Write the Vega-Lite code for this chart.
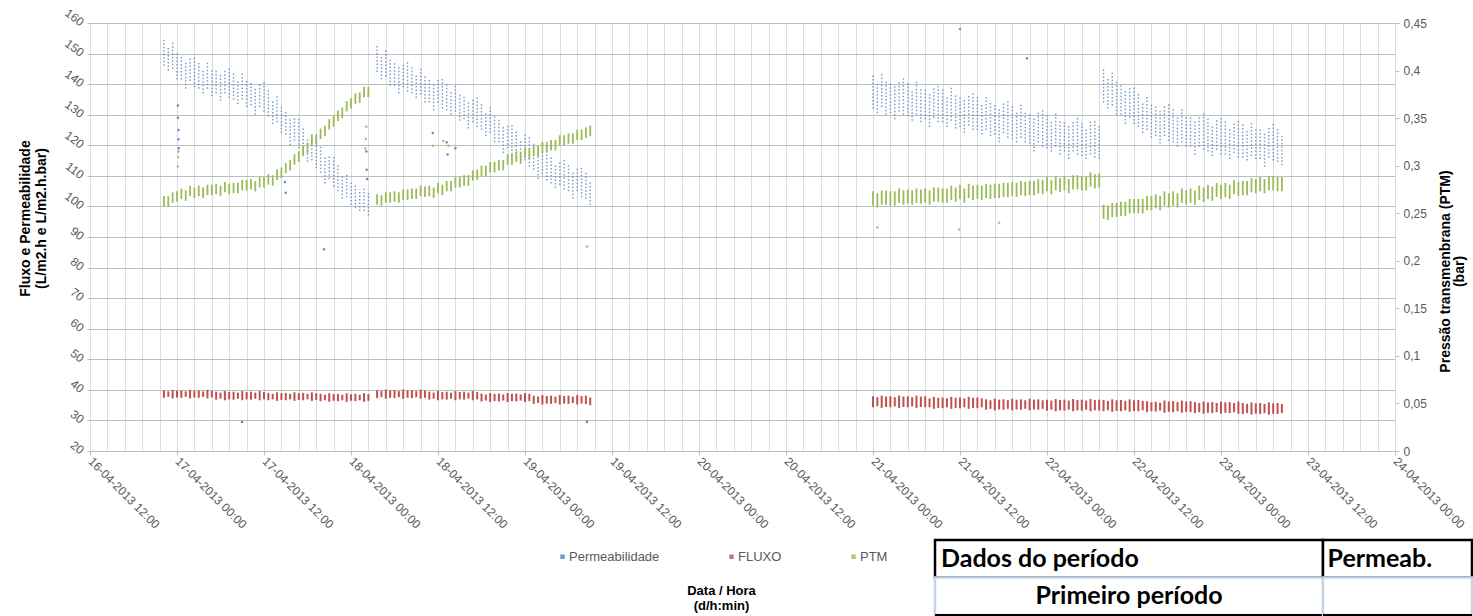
{
"$schema": "https://vega.github.io/schema/vega-lite/v6.json",
"autosize": {"type": "pad"},
"padding": {"left": 18, "top": 6, "right": 0, "bottom": 0},
"background": "#ffffff",
"bounds": "flush",
"spacing": 89,
"config": {
  "font": "Liberation Sans",
  "view": {"stroke": null},
  "axis": {"labelFont": "Liberation Sans", "titleFont": "Liberation Sans"},
  "legend": {"labelFont": "Liberation Sans"}
},
"datasets": {
"main": [
{"t":41380.925,"pl":146,"ph":155,"fl":37.4,"fh":39.8,"ml":0.257,"mh":0.268},
{"t":41380.95,"pl":144.5,"ph":152.5,"fl":37.7,"fh":39.5,"ml":0.257,"mh":0.268},
{"t":41380.975,"pl":145,"ph":154,"fl":37.2,"fh":40.0,"ml":0.261,"mh":0.272},
{"t":41381,"pl":141.5,"ph":150.5,"fl":37.5,"fh":39.7,"ml":0.262,"mh":0.273},
{"t":41381.025,"pl":141.5,"ph":149.5,"fl":37.4,"fh":39.8,"ml":0.265,"mh":0.276},
{"t":41381.05,"pl":138.5,"ph":147.5,"fl":37.7,"fh":39.5,"ml":0.263,"mh":0.274},
{"t":41381.075,"pl":141,"ph":149,"fl":37.2,"fh":40.0,"ml":0.268,"mh":0.279},
{"t":41381.1,"pl":139,"ph":149,"fl":37.5,"fh":39.7,"ml":0.266,"mh":0.277},
{"t":41381.125,"pl":138.5,"ph":147.5,"fl":37.4,"fh":39.8,"ml":0.268,"mh":0.279},
{"t":41381.15,"pl":137,"ph":145,"fl":37.7,"fh":39.5,"ml":0.266,"mh":0.277},
{"t":41381.175,"pl":138.5,"ph":147.5,"fl":37.2,"fh":40.0,"ml":0.269,"mh":0.280},
{"t":41381.2,"pl":136,"ph":145,"fl":37.5,"fh":39.7,"ml":0.269,"mh":0.280},
{"t":41381.225,"pl":137,"ph":145,"fl":36.8,"fh":39.4,"ml":0.270,"mh":0.281},
{"t":41381.25,"pl":134.5,"ph":143.5,"fl":37.1,"fh":39.1,"ml":0.268,"mh":0.279},
{"t":41381.275,"pl":137,"ph":145,"fl":36.6,"fh":39.6,"ml":0.272,"mh":0.283},
{"t":41381.3,"pl":135.5,"ph":145.5,"fl":36.9,"fh":39.3,"ml":0.270,"mh":0.281},
{"t":41381.325,"pl":135,"ph":144,"fl":36.8,"fh":39.4,"ml":0.271,"mh":0.282},
{"t":41381.35,"pl":133.5,"ph":141.5,"fl":37.1,"fh":39.1,"ml":0.271,"mh":0.282},
{"t":41381.375,"pl":135,"ph":144,"fl":36.6,"fh":39.6,"ml":0.274,"mh":0.285},
{"t":41381.4,"pl":132.5,"ph":141.5,"fl":36.9,"fh":39.3,"ml":0.274,"mh":0.285},
{"t":41381.425,"pl":133,"ph":141,"fl":36.8,"fh":39.4,"ml":0.275,"mh":0.286},
{"t":41381.45,"pl":130,"ph":139,"fl":37.1,"fh":39.1,"ml":0.273,"mh":0.284},
{"t":41381.475,"pl":132.5,"ph":140.5,"fl":36.6,"fh":39.6,"ml":0.277,"mh":0.288},
{"t":41381.5,"pl":131,"ph":141,"fl":36.9,"fh":39.3,"ml":0.277,"mh":0.288},
{"t":41381.525,"pl":129.5,"ph":138.5,"fl":36.6,"fh":39.0,"ml":0.280,"mh":0.291},
{"t":41381.55,"pl":127,"ph":135,"fl":36.9,"fh":38.7,"ml":0.279,"mh":0.290},
{"t":41381.575,"pl":127.5,"ph":136.5,"fl":36.4,"fh":39.2,"ml":0.285,"mh":0.296},
{"t":41381.6,"pl":124,"ph":133,"fl":36.7,"fh":38.9,"ml":0.287,"mh":0.298},
{"t":41381.625,"pl":123.5,"ph":131.5,"fl":36.6,"fh":39.0,"ml":0.292,"mh":0.303},
{"t":41381.65,"pl":120,"ph":129,"fl":36.9,"fh":38.7,"ml":0.295,"mh":0.306},
{"t":41381.675,"pl":121.5,"ph":129.5,"fl":36.4,"fh":39.2,"ml":0.301,"mh":0.312},
{"t":41381.7,"pl":119,"ph":129,"fl":36.7,"fh":38.9,"ml":0.304,"mh":0.315},
{"t":41381.725,"pl":117,"ph":126,"fl":36.6,"fh":39.0,"ml":0.310,"mh":0.321},
{"t":41381.75,"pl":114.5,"ph":122.5,"fl":36.9,"fh":38.7,"ml":0.313,"mh":0.324},
{"t":41381.775,"pl":115,"ph":124,"fl":36.4,"fh":39.2,"ml":0.321,"mh":0.332},
{"t":41381.8,"pl":112.5,"ph":122.5,"fl":36.7,"fh":38.9,"ml":0.322,"mh":0.333},
{"t":41381.825,"pl":111,"ph":120,"fl":36.3,"fh":38.7,"ml":0.328,"mh":0.339},
{"t":41381.85,"pl":107.5,"ph":116.5,"fl":36.6,"fh":38.4,"ml":0.331,"mh":0.342},
{"t":41381.875,"pl":109,"ph":117,"fl":36.1,"fh":38.9,"ml":0.338,"mh":0.349},
{"t":41381.9,"pl":106.5,"ph":116.5,"fl":36.4,"fh":38.6,"ml":0.341,"mh":0.352},
{"t":41381.925,"pl":105,"ph":114,"fl":36.3,"fh":38.7,"ml":0.347,"mh":0.358},
{"t":41381.95,"pl":102.5,"ph":110.5,"fl":36.6,"fh":38.4,"ml":0.350,"mh":0.361},
{"t":41381.975,"pl":103,"ph":111,"fl":36.1,"fh":38.9,"ml":0.357,"mh":0.368},
{"t":41382,"pl":100.5,"ph":108.5,"fl":36.4,"fh":38.6,"ml":0.360,"mh":0.371},
{"t":41382.025,"pl":99.5,"ph":107.5,"fl":36.3,"fh":38.7,"ml":0.365,"mh":0.376},
{"t":41382.05,"pl":98.5,"ph":105.5,"fl":36.6,"fh":38.4,"ml":0.366,"mh":0.377},
{"t":41382.075,"pl":98.5,"ph":106.5,"fl":36.1,"fh":38.9,"ml":0.372,"mh":0.383},
{"t":41382.1,"pl":97,"ph":105,"fl":36.4,"fh":38.6,"ml":0.372,"mh":0.383},
{"t":41382.15,"pl":144,"ph":153,"fl":37.3,"fh":39.9,"ml":0.259,"mh":0.270},
{"t":41382.175,"pl":141.5,"ph":149.5,"fl":37.6,"fh":39.6,"ml":0.258,"mh":0.269},
{"t":41382.2,"pl":142.5,"ph":151.5,"fl":37.1,"fh":40.1,"ml":0.261,"mh":0.272},
{"t":41382.225,"pl":139.5,"ph":148.5,"fl":37.4,"fh":39.8,"ml":0.261,"mh":0.272},
{"t":41382.25,"pl":139.5,"ph":147.5,"fl":37.3,"fh":39.9,"ml":0.262,"mh":0.273},
{"t":41382.275,"pl":137,"ph":146,"fl":37.6,"fh":39.6,"ml":0.261,"mh":0.272},
{"t":41382.3,"pl":139,"ph":147,"fl":37.1,"fh":40.1,"ml":0.264,"mh":0.275},
{"t":41382.325,"pl":137.5,"ph":147.5,"fl":37.4,"fh":39.8,"ml":0.264,"mh":0.275},
{"t":41382.35,"pl":137,"ph":146,"fl":37.3,"fh":39.9,"ml":0.265,"mh":0.276},
{"t":41382.375,"pl":135.5,"ph":143.5,"fl":37.6,"fh":39.6,"ml":0.265,"mh":0.276},
{"t":41382.4,"pl":136.5,"ph":145.5,"fl":37.1,"fh":40.1,"ml":0.268,"mh":0.279},
{"t":41382.425,"pl":134,"ph":143,"fl":37.4,"fh":39.8,"ml":0.267,"mh":0.278},
{"t":41382.45,"pl":134,"ph":142,"fl":36.8,"fh":39.4,"ml":0.268,"mh":0.279},
{"t":41382.475,"pl":131.5,"ph":140.5,"fl":37.1,"fh":39.1,"ml":0.266,"mh":0.277},
{"t":41382.5,"pl":134,"ph":142,"fl":36.6,"fh":39.6,"ml":0.271,"mh":0.282},
{"t":41382.525,"pl":132,"ph":142,"fl":36.9,"fh":39.3,"ml":0.269,"mh":0.280},
{"t":41382.55,"pl":131.5,"ph":140.5,"fl":36.8,"fh":39.4,"ml":0.273,"mh":0.284},
{"t":41382.575,"pl":130,"ph":138,"fl":37.1,"fh":39.1,"ml":0.273,"mh":0.284},
{"t":41382.6,"pl":131,"ph":140,"fl":36.6,"fh":39.6,"ml":0.277,"mh":0.288},
{"t":41382.625,"pl":128,"ph":137,"fl":36.9,"fh":39.3,"ml":0.277,"mh":0.288},
{"t":41382.65,"pl":128.5,"ph":136.5,"fl":36.8,"fh":39.4,"ml":0.279,"mh":0.290},
{"t":41382.675,"pl":125.5,"ph":134.5,"fl":37.1,"fh":39.1,"ml":0.279,"mh":0.290},
{"t":41382.7,"pl":127.5,"ph":135.5,"fl":36.6,"fh":39.6,"ml":0.284,"mh":0.295},
{"t":41382.725,"pl":126,"ph":136,"fl":36.9,"fh":39.3,"ml":0.285,"mh":0.296},
{"t":41382.75,"pl":125,"ph":134,"fl":36.2,"fh":38.8,"ml":0.289,"mh":0.300},
{"t":41382.775,"pl":123,"ph":131,"fl":36.5,"fh":38.5,"ml":0.289,"mh":0.300},
{"t":41382.8,"pl":124,"ph":133,"fl":36.0,"fh":39.0,"ml":0.293,"mh":0.304},
{"t":41382.825,"pl":121,"ph":130,"fl":36.3,"fh":38.7,"ml":0.293,"mh":0.304},
{"t":41382.85,"pl":121,"ph":129,"fl":36.2,"fh":38.8,"ml":0.295,"mh":0.306},
{"t":41382.875,"pl":117.5,"ph":126.5,"fl":36.5,"fh":38.5,"ml":0.295,"mh":0.306},
{"t":41382.9,"pl":119,"ph":127,"fl":36.0,"fh":39.0,"ml":0.301,"mh":0.312},
{"t":41382.925,"pl":117,"ph":127,"fl":36.3,"fh":38.7,"ml":0.301,"mh":0.312},
{"t":41382.95,"pl":116,"ph":125,"fl":36.2,"fh":38.8,"ml":0.304,"mh":0.315},
{"t":41382.975,"pl":114,"ph":122,"fl":36.5,"fh":38.5,"ml":0.303,"mh":0.314},
{"t":41383,"pl":115,"ph":124,"fl":36.0,"fh":39.0,"ml":0.308,"mh":0.319},
{"t":41383.025,"pl":113,"ph":123,"fl":36.3,"fh":38.7,"ml":0.307,"mh":0.318},
{"t":41383.05,"pl":112,"ph":121,"fl":35.4,"fh":38.1,"ml":0.310,"mh":0.321},
{"t":41383.075,"pl":109,"ph":118,"fl":35.7,"fh":37.8,"ml":0.310,"mh":0.321},
{"t":41383.1,"pl":110.5,"ph":118.5,"fl":35.2,"fh":38.3,"ml":0.314,"mh":0.325},
{"t":41383.125,"pl":108.5,"ph":118.5,"fl":35.5,"fh":38.0,"ml":0.314,"mh":0.325},
{"t":41383.15,"pl":107.5,"ph":116.5,"fl":35.4,"fh":38.1,"ml":0.316,"mh":0.327},
{"t":41383.175,"pl":106,"ph":114,"fl":35.7,"fh":37.8,"ml":0.316,"mh":0.327},
{"t":41383.2,"pl":107,"ph":115,"fl":35.2,"fh":38.3,"ml":0.321,"mh":0.332},
{"t":41383.225,"pl":105.5,"ph":115.5,"fl":35.5,"fh":38.0,"ml":0.321,"mh":0.332},
{"t":41383.25,"pl":105,"ph":114,"fl":35.4,"fh":38.1,"ml":0.323,"mh":0.334},
{"t":41383.275,"pl":102.5,"ph":111.5,"fl":35.7,"fh":37.8,"ml":0.323,"mh":0.334},
{"t":41383.3,"pl":105,"ph":113,"fl":35.2,"fh":38.3,"ml":0.327,"mh":0.338},
{"t":41383.325,"pl":103,"ph":113,"fl":35.5,"fh":38.0,"ml":0.327,"mh":0.338},
{"t":41383.35,"pl":102.5,"ph":111.5,"fl":35.4,"fh":38.1,"ml":0.329,"mh":0.340},
{"t":41383.375,"pl":100.5,"ph":108.5,"fl":35.0,"fh":37.5,"ml":0.331,"mh":0.342},
{"t":41385,"pl":132,"ph":143,"fl":34.3,"fh":37.9,"ml":0.258,"mh":0.273},
{"t":41385.025,"pl":130.5,"ph":140.5,"fl":34.6,"fh":37.6,"ml":0.256,"mh":0.271},
{"t":41385.05,"pl":132.5,"ph":143.5,"fl":34.1,"fh":38.1,"ml":0.259,"mh":0.274},
{"t":41385.075,"pl":130,"ph":141,"fl":34.4,"fh":37.8,"ml":0.259,"mh":0.274},
{"t":41385.1,"pl":130.5,"ph":140.5,"fl":34.3,"fh":37.9,"ml":0.258,"mh":0.273},
{"t":41385.125,"pl":128.5,"ph":139.5,"fl":34.6,"fh":37.6,"ml":0.258,"mh":0.273},
{"t":41385.15,"pl":131,"ph":141,"fl":34.1,"fh":38.1,"ml":0.261,"mh":0.276},
{"t":41385.175,"pl":130,"ph":142,"fl":34.4,"fh":37.8,"ml":0.259,"mh":0.274},
{"t":41385.2,"pl":129.5,"ph":140.5,"fl":34.3,"fh":37.9,"ml":0.260,"mh":0.275},
{"t":41385.225,"pl":128,"ph":138,"fl":34.6,"fh":37.6,"ml":0.259,"mh":0.274},
{"t":41385.25,"pl":130,"ph":141,"fl":34.1,"fh":38.1,"ml":0.261,"mh":0.276},
{"t":41385.275,"pl":127.5,"ph":138.5,"fl":34.4,"fh":37.8,"ml":0.260,"mh":0.275},
{"t":41385.3,"pl":128.5,"ph":138.5,"fl":34.3,"fh":37.9,"ml":0.261,"mh":0.276},
{"t":41385.325,"pl":126,"ph":137,"fl":34.3,"fh":37.2,"ml":0.259,"mh":0.274},
{"t":41385.35,"pl":129,"ph":139,"fl":33.8,"fh":37.7,"ml":0.262,"mh":0.277},
{"t":41385.375,"pl":127.5,"ph":139.5,"fl":34.1,"fh":37.4,"ml":0.262,"mh":0.277},
{"t":41385.4,"pl":127.5,"ph":138.5,"fl":34.0,"fh":37.5,"ml":0.261,"mh":0.276},
{"t":41385.425,"pl":126,"ph":136,"fl":34.3,"fh":37.2,"ml":0.261,"mh":0.276},
{"t":41385.45,"pl":128,"ph":139,"fl":33.8,"fh":37.7,"ml":0.264,"mh":0.279},
{"t":41385.475,"pl":125.5,"ph":136.5,"fl":34.1,"fh":37.4,"ml":0.262,"mh":0.277},
{"t":41385.5,"pl":126,"ph":136,"fl":34.0,"fh":37.5,"ml":0.265,"mh":0.280},
{"t":41385.525,"pl":124,"ph":135,"fl":34.3,"fh":37.2,"ml":0.261,"mh":0.276},
{"t":41385.55,"pl":126.5,"ph":136.5,"fl":33.8,"fh":37.7,"ml":0.266,"mh":0.281},
{"t":41385.575,"pl":125,"ph":137,"fl":34.1,"fh":37.4,"ml":0.264,"mh":0.279},
{"t":41385.6,"pl":125,"ph":136,"fl":34.0,"fh":37.5,"ml":0.265,"mh":0.280},
{"t":41385.625,"pl":123.5,"ph":133.5,"fl":34.3,"fh":37.2,"ml":0.264,"mh":0.279},
{"t":41385.65,"pl":125,"ph":136,"fl":33.5,"fh":36.9,"ml":0.266,"mh":0.281},
{"t":41385.675,"pl":123,"ph":134,"fl":33.8,"fh":36.6,"ml":0.265,"mh":0.280},
{"t":41385.7,"pl":123.5,"ph":133.5,"fl":33.3,"fh":37.1,"ml":0.266,"mh":0.281},
{"t":41385.725,"pl":121,"ph":132,"fl":33.6,"fh":36.8,"ml":0.266,"mh":0.281},
{"t":41385.75,"pl":124,"ph":134,"fl":33.5,"fh":36.9,"ml":0.267,"mh":0.282},
{"t":41385.775,"pl":122.5,"ph":134.5,"fl":33.8,"fh":36.6,"ml":0.267,"mh":0.282},
{"t":41385.8,"pl":122,"ph":133,"fl":33.3,"fh":37.1,"ml":0.268,"mh":0.283},
{"t":41385.825,"pl":121,"ph":131,"fl":33.6,"fh":36.8,"ml":0.267,"mh":0.282},
{"t":41385.85,"pl":122.5,"ph":133.5,"fl":33.5,"fh":36.9,"ml":0.269,"mh":0.284},
{"t":41385.875,"pl":121,"ph":131,"fl":33.8,"fh":36.6,"ml":0.268,"mh":0.283},
{"t":41385.9,"pl":120.5,"ph":130.5,"fl":33.3,"fh":37.1,"ml":0.269,"mh":0.284},
{"t":41385.925,"pl":118,"ph":129,"fl":33.6,"fh":36.8,"ml":0.269,"mh":0.284},
{"t":41385.95,"pl":121,"ph":131,"fl":33.5,"fh":36.9,"ml":0.271,"mh":0.286},
{"t":41385.975,"pl":119.5,"ph":131.5,"fl":33.8,"fh":36.6,"ml":0.270,"mh":0.285},
{"t":41386,"pl":119,"ph":130,"fl":33.2,"fh":36.8,"ml":0.273,"mh":0.288},
{"t":41386.025,"pl":118,"ph":128,"fl":33.5,"fh":36.5,"ml":0.270,"mh":0.285},
{"t":41386.05,"pl":119.5,"ph":130.5,"fl":33.0,"fh":37.0,"ml":0.274,"mh":0.289},
{"t":41386.075,"pl":117,"ph":128,"fl":33.3,"fh":36.7,"ml":0.272,"mh":0.287},
{"t":41386.1,"pl":118,"ph":128,"fl":33.2,"fh":36.8,"ml":0.274,"mh":0.289},
{"t":41386.125,"pl":115.5,"ph":126.5,"fl":33.5,"fh":36.5,"ml":0.271,"mh":0.286},
{"t":41386.15,"pl":118,"ph":128,"fl":33.0,"fh":37.0,"ml":0.275,"mh":0.290},
{"t":41386.175,"pl":117,"ph":129,"fl":33.3,"fh":36.7,"ml":0.275,"mh":0.290},
{"t":41386.2,"pl":116.5,"ph":127.5,"fl":33.2,"fh":36.8,"ml":0.274,"mh":0.289},
{"t":41386.225,"pl":115.5,"ph":125.5,"fl":33.5,"fh":36.5,"ml":0.274,"mh":0.289},
{"t":41386.25,"pl":117,"ph":128,"fl":33.0,"fh":37.0,"ml":0.278,"mh":0.293},
{"t":41386.275,"pl":116,"ph":128,"fl":33.3,"fh":36.7,"ml":0.276,"mh":0.291},
{"t":41386.3,"pl":115.5,"ph":126.5,"fl":33.2,"fh":36.8,"ml":0.277,"mh":0.292},
{"t":41386.325,"pl":134,"ph":145,"fl":33.0,"fh":36.7,"ml":0.244,"mh":0.259},
{"t":41386.35,"pl":132,"ph":142,"fl":33.3,"fh":36.4,"ml":0.243,"mh":0.258},
{"t":41386.375,"pl":133,"ph":144,"fl":32.8,"fh":36.9,"ml":0.246,"mh":0.261},
{"t":41386.4,"pl":130,"ph":141,"fl":33.1,"fh":36.6,"ml":0.246,"mh":0.261},
{"t":41386.425,"pl":130,"ph":140,"fl":33.0,"fh":36.7,"ml":0.247,"mh":0.262},
{"t":41386.45,"pl":127,"ph":138,"fl":33.3,"fh":36.4,"ml":0.247,"mh":0.262},
{"t":41386.475,"pl":129,"ph":139,"fl":32.8,"fh":36.9,"ml":0.250,"mh":0.265},
{"t":41386.5,"pl":127,"ph":139,"fl":33.1,"fh":36.6,"ml":0.250,"mh":0.265},
{"t":41386.525,"pl":126,"ph":137,"fl":33.0,"fh":36.7,"ml":0.250,"mh":0.265},
{"t":41386.55,"pl":124,"ph":134,"fl":33.3,"fh":36.4,"ml":0.250,"mh":0.265},
{"t":41386.575,"pl":125,"ph":136,"fl":32.7,"fh":36.3,"ml":0.253,"mh":0.268},
{"t":41386.6,"pl":122.5,"ph":133.5,"fl":33.0,"fh":36.0,"ml":0.253,"mh":0.268},
{"t":41386.625,"pl":123,"ph":133,"fl":32.9,"fh":36.1,"ml":0.255,"mh":0.270},
{"t":41386.65,"pl":120.5,"ph":131.5,"fl":33.2,"fh":35.8,"ml":0.253,"mh":0.268},
{"t":41386.675,"pl":123,"ph":133,"fl":32.5,"fh":36.5,"ml":0.258,"mh":0.273},
{"t":41386.7,"pl":121.5,"ph":133.5,"fl":32.8,"fh":36.2,"ml":0.256,"mh":0.271},
{"t":41386.725,"pl":121,"ph":132,"fl":32.7,"fh":36.3,"ml":0.258,"mh":0.273},
{"t":41386.75,"pl":119.5,"ph":129.5,"fl":33.0,"fh":36.0,"ml":0.256,"mh":0.271},
{"t":41386.775,"pl":121,"ph":132,"fl":32.5,"fh":36.5,"ml":0.261,"mh":0.276},
{"t":41386.8,"pl":119.5,"ph":129.5,"fl":32.8,"fh":36.2,"ml":0.259,"mh":0.274},
{"t":41386.825,"pl":119.5,"ph":129.5,"fl":32.7,"fh":36.3,"ml":0.261,"mh":0.276},
{"t":41386.85,"pl":117,"ph":128,"fl":32.4,"fh":36.0,"ml":0.259,"mh":0.274},
{"t":41386.875,"pl":119.5,"ph":129.5,"fl":32.7,"fh":35.7,"ml":0.264,"mh":0.279},
{"t":41386.9,"pl":118.5,"ph":130.5,"fl":32.2,"fh":36.2,"ml":0.262,"mh":0.277},
{"t":41386.925,"pl":118,"ph":129,"fl":32.5,"fh":35.9,"ml":0.265,"mh":0.280},
{"t":41386.95,"pl":116.5,"ph":126.5,"fl":32.4,"fh":36.0,"ml":0.263,"mh":0.278},
{"t":41386.975,"pl":118.5,"ph":128.5,"fl":32.7,"fh":35.7,"ml":0.267,"mh":0.282},
{"t":41387,"pl":117,"ph":129,"fl":32.2,"fh":36.2,"ml":0.265,"mh":0.280},
{"t":41387.025,"pl":117,"ph":128,"fl":32.5,"fh":35.9,"ml":0.267,"mh":0.282},
{"t":41387.05,"pl":115.5,"ph":125.5,"fl":32.4,"fh":36.0,"ml":0.265,"mh":0.280},
{"t":41387.075,"pl":117.5,"ph":127.5,"fl":32.7,"fh":35.7,"ml":0.270,"mh":0.285},
{"t":41387.1,"pl":116,"ph":128,"fl":32.2,"fh":36.2,"ml":0.268,"mh":0.283},
{"t":41387.125,"pl":116,"ph":127,"fl":32.1,"fh":35.7,"ml":0.269,"mh":0.284},
{"t":41387.15,"pl":115,"ph":125,"fl":32.4,"fh":35.4,"ml":0.269,"mh":0.284},
{"t":41387.175,"pl":116.5,"ph":127.5,"fl":31.9,"fh":35.9,"ml":0.272,"mh":0.287},
{"t":41387.2,"pl":115.5,"ph":125.5,"fl":32.2,"fh":35.6,"ml":0.271,"mh":0.286},
{"t":41387.225,"pl":115.5,"ph":125.5,"fl":32.1,"fh":35.7,"ml":0.273,"mh":0.288},
{"t":41387.25,"pl":113,"ph":124,"fl":32.4,"fh":35.4,"ml":0.271,"mh":0.286},
{"t":41387.275,"pl":116,"ph":126,"fl":31.9,"fh":35.9,"ml":0.274,"mh":0.289},
{"t":41387.3,"pl":115,"ph":127,"fl":32.2,"fh":35.6,"ml":0.274,"mh":0.289},
{"t":41387.325,"pl":114.5,"ph":125.5,"fl":32.1,"fh":35.7,"ml":0.273,"mh":0.288},
{"t":41387.35,"pl":113.5,"ph":123.5,"fl":32.4,"fh":35.4,"ml":0.273,"mh":0.288}
],
"extra": [
{"s":"Permeabilidade","t":41381.005,"v":133},
{"s":"Permeabilidade","t":41381.005,"v":129},
{"s":"Permeabilidade","t":41381.008,"v":125},
{"s":"Permeabilidade","t":41381.008,"v":122},
{"s":"Permeabilidade","t":41381.01,"v":119},
{"s":"Permeabilidade","t":41381.62,"v":108},
{"s":"Permeabilidade","t":41381.625,"v":104.5},
{"s":"Permeabilidade","t":41382.088,"v":118},
{"s":"Permeabilidade","t":41382.09,"v":112},
{"s":"Permeabilidade","t":41382.092,"v":109},
{"s":"Permeabilidade","t":41382.47,"v":124},
{"s":"Permeabilidade","t":41382.55,"v":121},
{"s":"Permeabilidade","t":41382.555,"v":117},
{"s":"Permeabilidade","t":41382.6,"v":119},
{"s":"Permeabilidade","t":41381.845,"v":86},
{"s":"Permeabilidade","t":41385.5,"v":158},
{"s":"Permeabilidade","t":41385.885,"v":148.5},
{"s":"FLUXO","t":41381.374,"v":29.5},
{"s":"FLUXO","t":41383.356,"v":29.5},
{"s":"PTM","t":41381.005,"v":0.299},
{"s":"PTM","t":41381.007,"v":0.309},
{"s":"PTM","t":41381.009,"v":0.315},
{"s":"PTM","t":41382.082,"v":0.318},
{"s":"PTM","t":41382.085,"v":0.328},
{"s":"PTM","t":41382.088,"v":0.341},
{"s":"PTM","t":41382.47,"v":0.321},
{"s":"PTM","t":41382.53,"v":0.326},
{"s":"PTM","t":41382.56,"v":0.321},
{"s":"PTM","t":41383.356,"v":0.215},
{"s":"PTM","t":41385.025,"v":0.235},
{"s":"PTM","t":41385.495,"v":0.233},
{"s":"PTM","t":41385.725,"v":0.24}
]
},
"vconcat": [
{
  "width": 1305,
  "height": 428,
  "layer": [
    {
      "data": {"name": "main"},
      "encoding": {
        "x": {"field": "t", "type": "quantitative",
          "scale": {"domain": [41380.5, 41388], "nice": false, "zero": false},
          "axis": {"orient": "bottom", "grid": true, "tickCount": 75, "labels": false, "ticks": false, "domain": false, "title": null, "gridColor": "#dcdcdc", "gridWidth": 1}}
      },
      "layer": [
        {
          "mark": {"type": "rule", "strokeWidth": 1.4, "strokeDash": [1.5, 2], "opacity": 0.8},
          "encoding": {
            "y": {"field": "pl", "type": "quantitative",
              "scale": {"domain": [20, 160], "nice": false, "zero": false},
              "axis": {"orient": "left", "tickCount": 14, "grid": true, "gridColor": "#bdbdbd", "gridWidth": 1, "domain": false, "ticks": true, "tickSize": 3, "tickColor": "#bdbdbd",
                "labelAngle": 37, "labelAlign": "right", "labelBaseline": "middle", "labelPadding": 5, "labelFontSize": 12, "labelColor": "#595959",
                "title": ["Fluxo e Permeabilidade", "(L/m2.h e L/m2.h.bar)"], "titleFontSize": 14, "titleFontWeight": "bold", "titleColor": "#000000",
                "titleAngle": 270, "titleX": -58, "titleY": 195, "titleAlign": "center", "titleBaseline": "bottom", "titleLineHeight": 16}},
            "y2": {"field": "ph"},
            "color": {"datum": "Permeabilidade", "type": "nominal", "title": null,
              "scale": {"domain": ["Permeabilidade", "FLUXO", "PTM"], "range": ["#4f81bd", "#c0504d", "#9bbb59"]},
              "legend": {"orient": "none", "legendX": 466, "legendY": 527, "direction": "horizontal", "title": null,
                "symbolType": "square", "symbolSize": 6, "symbolStrokeWidth": 2, "labelFontSize": 13, "labelColor": "#595959",
                "columnPadding": 65, "labelOffset": 0, "padding": 0}}
          }
        },
        {
          "mark": {"type": "rule", "strokeWidth": 2},
          "encoding": {
            "y": {"field": "fl", "type": "quantitative"},
            "y2": {"field": "fh"},
            "color": {"datum": "FLUXO", "type": "nominal", "title": null}
          }
        },
        {
          "data": {"name": "extra"},
          "transform": [{"filter": "datum.s != 'PTM'"}],
          "mark": {"type": "point", "filled": true, "size": 6, "opacity": 0.9},
          "encoding": {
            "y": {"field": "v", "type": "quantitative"},
            "color": {"field": "s", "type": "nominal", "title": null}
          }
        }
      ]
    },
    {
      "data": {"name": "main"},
      "encoding": {
        "x": {"field": "t", "type": "quantitative",
          "scale": {"domain": [41380.5, 41388], "nice": false, "zero": false},
          "axis": {"orient": "bottom", "values": [41380.5, 41381, 41381.5, 41382, 41382.5, 41383, 41383.5, 41384, 41384.5, 41385, 41385.5, 41386, 41386.5, 41387, 41387.5, 41388],
            "grid": false, "domain": false, "tickSize": 4, "tickColor": "#bdbdbd",
            "labelExpr": "utcFormat((datum.value - 25569) * 86400000, '%d-%m-%Y %H:%M')",
            "labelAngle": 45, "labelAlign": "left", "labelBaseline": "middle", "labelPadding": 4, "labelFontSize": 12, "labelColor": "#595959",
            "labelOverlap": false, "labelFlush": false, "labelBound": false,
            "title": ["Data / Hora", "(d/h:min)"], "titleFontSize": 13, "titleFontWeight": "bold", "titleColor": "#000000",
            "titleX": 631, "titleY": 133, "titleAlign": "center", "titleBaseline": "top", "titleLineHeight": 15}}
      },
      "layer": [
        {
          "mark": {"type": "rule", "strokeWidth": 1.8},
          "encoding": {
            "y": {"field": "ml", "type": "quantitative",
              "scale": {"domain": [0, 0.45], "nice": false, "zero": false},
              "axis": {"orient": "right", "tickCount": 9, "grid": false, "domain": false, "tickSize": 4, "tickColor": "#bdbdbd",
                "labelPadding": 4, "labelFontSize": 12, "labelColor": "#595959",
                "labelExpr": "replace(format(datum.value, '.2~f'), '.', ',')",
                "title": ["Pressão transmenbrana (PTM)", "(bar)"], "titleFontSize": 14, "titleFontWeight": "bold", "titleColor": "#000000",
                "titleAngle": 270, "titleX": 57, "titleY": 248, "titleAlign": "center", "titleBaseline": "bottom", "titleLineHeight": 14}},
            "y2": {"field": "mh"},
            "color": {"datum": "PTM", "type": "nominal", "title": null}
          }
        },
        {
          "data": {"name": "extra"},
          "transform": [{"filter": "datum.s == 'PTM'"}],
          "mark": {"type": "point", "filled": true, "size": 6, "opacity": 0.9},
          "encoding": {
            "y": {"field": "v", "type": "quantitative"},
            "color": {"datum": "PTM", "type": "nominal", "title": null}
          }
        }
      ]
    }
  ],
  "resolve": {"scale": {"y": "independent"}, "axis": {"x": "independent"}}
},
{
  "hconcat": [
    {
      "width": 845, "height": 75,
      "data": {"values": [{"k": 1}]},
      "mark": {"type": "point", "opacity": 0}
    },
    {
      "width": 388, "height": 75,
      "data": {"values": [{"row": "1", "txt": "Dados do período"}, {"row": "2", "txt": "Primeiro período"}]},
      "encoding": {"y": {"field": "row", "type": "ordinal", "axis": null, "scale": {"paddingInner": 0, "paddingOuter": 0}}},
      "layer": [
        {"transform": [{"filter": "datum.row == '1'"}], "mark": {"type": "rect", "fill": "#ffffff", "stroke": "#000000", "strokeWidth": 2.5}},
        {"transform": [{"filter": "datum.row == '2'"}], "mark": {"type": "rect", "fill": "#ffffff", "stroke": "#c5d3e8", "strokeWidth": 2.5}},
        {"transform": [{"filter": "datum.row == '2'"}], "mark": {"type": "rule", "color": "#000000", "strokeWidth": 2},
          "encoding": {"y": {"field": "row", "type": "ordinal", "bandPosition": 1}}},
        {"transform": [{"filter": "datum.row == '1'"}], "mark": {"type": "text", "align": "left", "dx": -188, "font": "Lato", "fontWeight": "bold", "fontSize": 25, "color": "#000000"},
          "encoding": {"text": {"field": "txt"}}},
        {"transform": [{"filter": "datum.row == '2'"}], "mark": {"type": "text", "align": "center", "font": "Lato", "fontWeight": "bold", "fontSize": 25, "color": "#000000"},
          "encoding": {"text": {"field": "txt"}}}
      ]
    },
    {
      "width": 149, "height": 75,
      "data": {"values": [{"row": "1", "txt": "Permeab."}, {"row": "2", "txt": ""}]},
      "encoding": {"y": {"field": "row", "type": "ordinal", "axis": null, "scale": {"paddingInner": 0, "paddingOuter": 0}}},
      "layer": [
        {"transform": [{"filter": "datum.row == '1'"}], "mark": {"type": "rect", "fill": "#ffffff", "stroke": "#000000", "strokeWidth": 2.5}},
        {"transform": [{"filter": "datum.row == '2'"}], "mark": {"type": "rect", "fill": "#ffffff", "stroke": "#c5d3e8", "strokeWidth": 2.5}},
        {"transform": [{"filter": "datum.row == '2'"}], "mark": {"type": "rule", "color": "#000000", "strokeWidth": 2},
          "encoding": {"y": {"field": "row", "type": "ordinal", "bandPosition": 1}}},
        {"transform": [{"filter": "datum.row == '1'"}], "mark": {"type": "text", "align": "left", "dx": -70, "font": "Lato", "fontWeight": "bold", "fontSize": 25, "color": "#000000"},
          "encoding": {"text": {"field": "txt"}}}
      ]
    }
  ],
  "spacing": 0,
  "bounds": "flush"
}
]
}
